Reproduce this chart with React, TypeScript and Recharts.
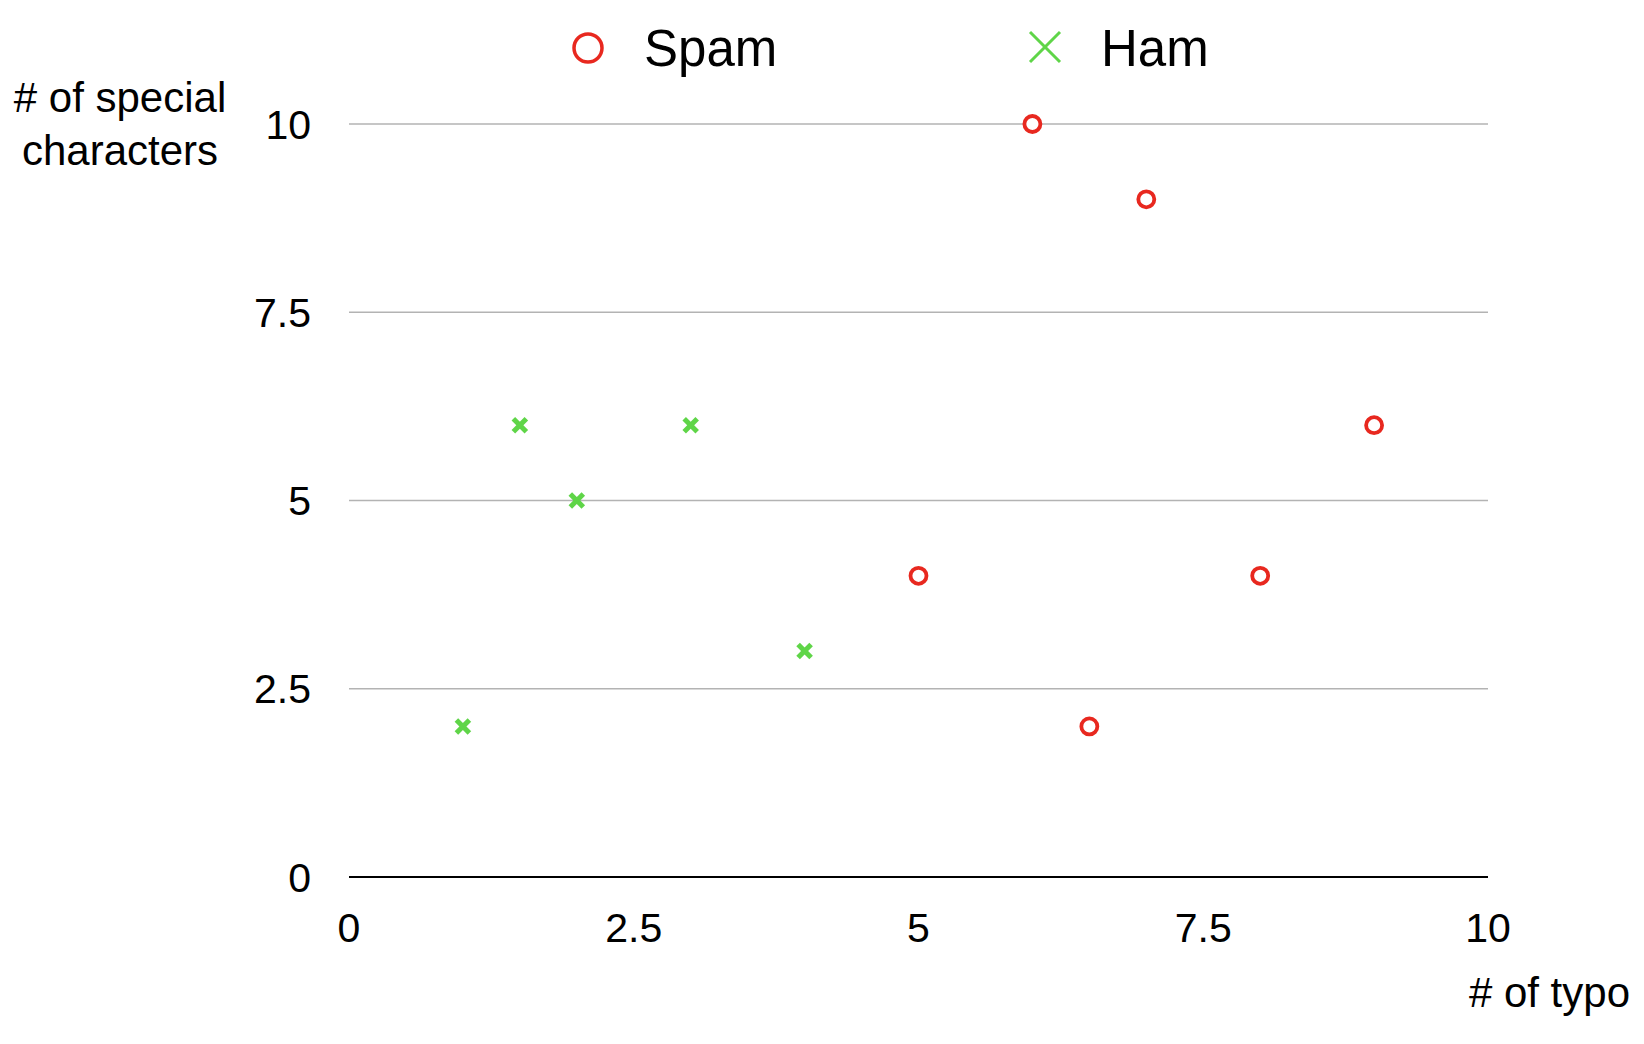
import React from 'react';
import { ScatterChart, Scatter, XAxis, YAxis, CartesianGrid, Legend, Label } from 'recharts';

const spamX = [5, 6, 6.5, 7, 8, 9];
const spamY = [4, 10, 2, 9, 4, 6];
const hamX = [1, 1.5, 2, 3, 4];
const hamY = [2, 6, 5, 6, 3];
const xTicks = [0, 2.5, 5, 7.5, 10];
const yTicks = [0, 2.5, 5, 7.5, 10];
const seriesNames = ['Spam', 'Ham'];
const xTitle = '# of typo';
const yTitleLines = ['# of special', 'characters'];

const spamData = spamX.map((x, i) => ({ x, y: spamY[i] }));
const hamData = hamX.map((x, i) => ({ x, y: hamY[i] }));

const RED = '#e8281f';
const GREEN = '#5fd548';
const FONT = '"Liberation Sans", Arimo, Helvetica, Arial, sans-serif';

const SpamShape = (props: any) => {
  const { cx, cy } = props;
  return <circle cx={cx} cy={cy} r={8} fill="#fff" stroke={RED} strokeWidth={3.8} />;
};

const HamShape = (props: any) => {
  const { cx, cy } = props;
  const s = 6.5;
  return (
    <g stroke={GREEN} strokeWidth={5} strokeLinecap="butt">
      <line x1={cx - s} y1={cy - s} x2={cx + s} y2={cy + s} />
      <line x1={cx - s} y1={cy + s} x2={cx + s} y2={cy - s} />
    </g>
  );
};

const LegendContent = () => (
  <svg width={1644} height={100} style={{ display: 'block' }}>
    <circle cx={588} cy={48} r={14} fill="none" stroke={RED} strokeWidth={3.5} />
    <text x={644} y={66} fontSize={51} fontFamily={FONT} fill="#000">{seriesNames[0]}</text>
    <g stroke={GREEN} strokeWidth={3}>
      <line x1={1030} y1={32} x2={1060} y2={62} />
      <line x1={1030} y1={62} x2={1060} y2={32} />
    </g>
    <text x={1101} y={66} fontSize={51} fontFamily={FONT} fill="#000">{seriesNames[1]}</text>
  </svg>
);

const YTitle = (props: any) => {
  const vb = props.viewBox || { x: 249, y: 124, width: 100, height: 753 };
  const cx = vb.x + vb.width - 229;
  return (
    <text textAnchor="middle" fontSize={42} fontFamily={FONT} fill="#000">
      <tspan x={cx} y={vb.y - 12}>{yTitleLines[0]}</tspan>
      <tspan x={cx} y={vb.y + 41}>{yTitleLines[1]}</tspan>
    </text>
  );
};

const XTitle = (props: any) => {
  const vb = props.viewBox || { x: 349, y: 877, width: 1139, height: 60 };
  return (
    <text x={vb.x + vb.width + 142} y={vb.y + 130} textAnchor="end" fontSize={42} fontFamily={FONT} fill="#000">
      {xTitle}
    </text>
  );
};

export default function App() {
  return (
    <div style={{ position: 'absolute', left: 0, top: 0, width: 1644, height: 1044, background: '#fff' }}>
      <ScatterChart
        width={1644}
        height={1044}
        margin={{ top: 124, right: 156, bottom: 107, left: 249 }}
        style={{ fontFamily: FONT }}
      >
        <CartesianGrid horizontal={true} vertical={false} stroke="#b3b3b3" strokeWidth={1.5} />
        <XAxis
          type="number"
          dataKey="x"
          domain={[0, 10]}
          ticks={xTicks}
          height={60}
          axisLine={{ stroke: '#000', strokeWidth: 2 }}
          tickLine={false}
          tickSize={0}
          tickMargin={36}
          tick={{ fill: '#000', fontSize: 41, fontFamily: FONT }}
          interval={0}
        >
          <Label content={<XTitle />} />
        </XAxis>
        <YAxis
          type="number"
          dataKey="y"
          domain={[0, 10]}
          ticks={yTicks}
          width={100}
          axisLine={false}
          tickLine={false}
          tickSize={0}
          tickMargin={38}
          tick={{ fill: '#000', fontSize: 41, fontFamily: FONT }}
          interval={0}
        >
          <Label content={<YTitle />} />
        </YAxis>
        <Legend
          verticalAlign="middle"
          align="center"
          content={<LegendContent />}
          wrapperStyle={{ top: 0, left: 0, width: 1644, height: 100 }}
        />
        <Scatter name={seriesNames[0]} data={spamData} shape={<SpamShape />} isAnimationActive={false} />
        <Scatter name={seriesNames[1]} data={hamData} shape={<HamShape />} isAnimationActive={false} />
      </ScatterChart>
    </div>
  );
}
